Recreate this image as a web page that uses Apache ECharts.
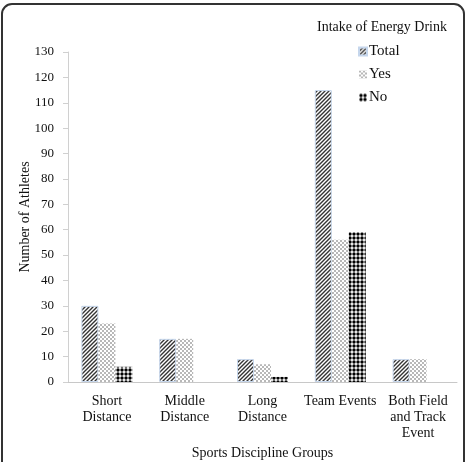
<!DOCTYPE html>
<html>
<head>
<meta charset="utf-8">
<script src="https://cdn.jsdelivr.net/npm/echarts@6/dist/echarts.min.js"></script>
<style>
    html, body { margin: 0; padding: 0; background: #fff; }
    #chart { width: 469px; height: 462px; }
</style>
</head>
<body>
<div id="chart"></div>
<script>
(function(){

    let categories = ['Short\nDistance', 'Middle\nDistance', 'Long\nDistance', 'Team Events', 'Both Field\nand Track\nEvent'];
    let totalValues = [30, 17, 9, 115, 9];
    let yesValues = [23, 17, 7, 56, 9];
    let noValues = [6, 0, 2, 59, 0];
    let seriesNames = ['Total', 'Yes', 'No'];

    let _font = '"Liberation Serif", "Times New Roman", serif';
    let _ink = '#111';

    // little canvas tiles used as bar fills
    let _makeTile = function(size, draw){
        let c = document.createElement('canvas');
        c.width = size;
        c.height = size;
        let ctx = c.getContext('2d');
        ctx.fillStyle = '#fff';
        ctx.fillRect(0, 0, size, size);
        draw(ctx);
        return c;
    };

    let stripeTile = _makeTile(4, function(ctx){
        ctx.strokeStyle = '#333';
        ctx.lineWidth = 1.4;
        ctx.beginPath();
        ctx.moveTo(-1, 5); ctx.lineTo(5, -1);
        ctx.moveTo(-1, 1); ctx.lineTo(1, -1);
        ctx.moveTo(3, 5); ctx.lineTo(5, 3);
        ctx.stroke();
    });

    let checkTile = _makeTile(4, function(ctx){
        ctx.fillStyle = '#b8b8b8';
        ctx.fillRect(0, 0, 2, 2);
        ctx.fillRect(2, 2, 2, 2);
    });

    let dotTile = _makeTile(4, function(ctx){
        ctx.fillStyle = '#000';
        ctx.beginPath();
        ctx.arc(2, 2, 1.7, 0, Math.PI * 2);
        ctx.fill();
    });

    let fills = [
        { image: stripeTile, repeat: 'repeat' },
        { image: checkTile, repeat: 'repeat' },
        { image: dotTile, repeat: 'repeat' }
    ];
    let values = [totalValues, yesValues, noValues];

    let series = seriesNames.map(function(name, i){
        return {
            name: name,
            type: 'bar',
            data: values[i],
            barWidth: 17,
            barGap: '0%',
            itemStyle: {
                color: fills[i],
                borderColor: i === 0 ? '#c5d6ec' : 'transparent',
                borderWidth: i === 0 ? 1 : 0
            }
        };
    });

    let chart = echarts.init(document.getElementById('chart'), null, { renderer: 'canvas' });

    chart.setOption({
        animation: false,
        backgroundColor: '#fff',
        textStyle: { fontFamily: _font },
        title: {
            text: 'Intake of Energy Drink',
            left: 377,
            textAlign: 'center',
            top: 15,
            textStyle: { fontFamily: _font, fontSize: 14, fontWeight: 'normal', color: _ink }
        },
        legend: {
            orient: 'vertical',
            left: 358,
            top: 44,
            padding: 0,
            itemWidth: 8,
            itemHeight: 8,
            itemGap: 8,
            icon: 'rect',
            data: seriesNames,
            textStyle: { fontFamily: _font, fontSize: 15, color: _ink, padding: [0, 0, 0, -3] }
        },
        grid: {
            left: 68,
            right: 12,
            top: 52,
            bottom: 80,
            outerBoundsMode: 'none',
            containLabel: false
        },
        xAxis: {
            type: 'category',
            data: categories,
            name: 'Sports Discipline Groups',
            nameLocation: 'middle',
            nameGap: 62,
            nameTextStyle: { fontFamily: _font, fontSize: 14, color: _ink },
            axisLine: { lineStyle: { color: '#c8c8c8' } },
            axisTick: { show: false },
            axisLabel: {
                fontFamily: _font,
                fontSize: 14,
                color: _ink,
                lineHeight: 16,
                margin: 11,
                interval: 0
            }
        },
        yAxis: {
            type: 'value',
            min: 0,
            max: 130,
            interval: 10,
            name: 'Number of Athletes',
            nameLocation: 'middle',
            nameGap: 36,
            nameMoveOverlap: false,
            nameTextStyle: { fontFamily: _font, fontSize: 14, color: _ink },
            axisLine: { show: true, lineStyle: { color: '#d0d0d0' } },
            axisTick: { show: true, length: 5, lineStyle: { color: '#d0d0d0' } },
            splitLine: { show: false },
            axisLabel: { fontFamily: _font, fontSize: 13, color: _ink, margin: 14 }
        },
        graphic: [{
            type: 'rect',
            shape: { x: 2, y: 4, width: 462, height: 470, r: [10, 10, 0, 0] },
            style: { fill: 'none', stroke: '#333', lineWidth: 2 },
            silent: true,
            z: 100
        }],
        series: series
    });

    window.addEventListener('resize', function(){
        chart.resize();
    });
})();
</script>
</body>
</html>
